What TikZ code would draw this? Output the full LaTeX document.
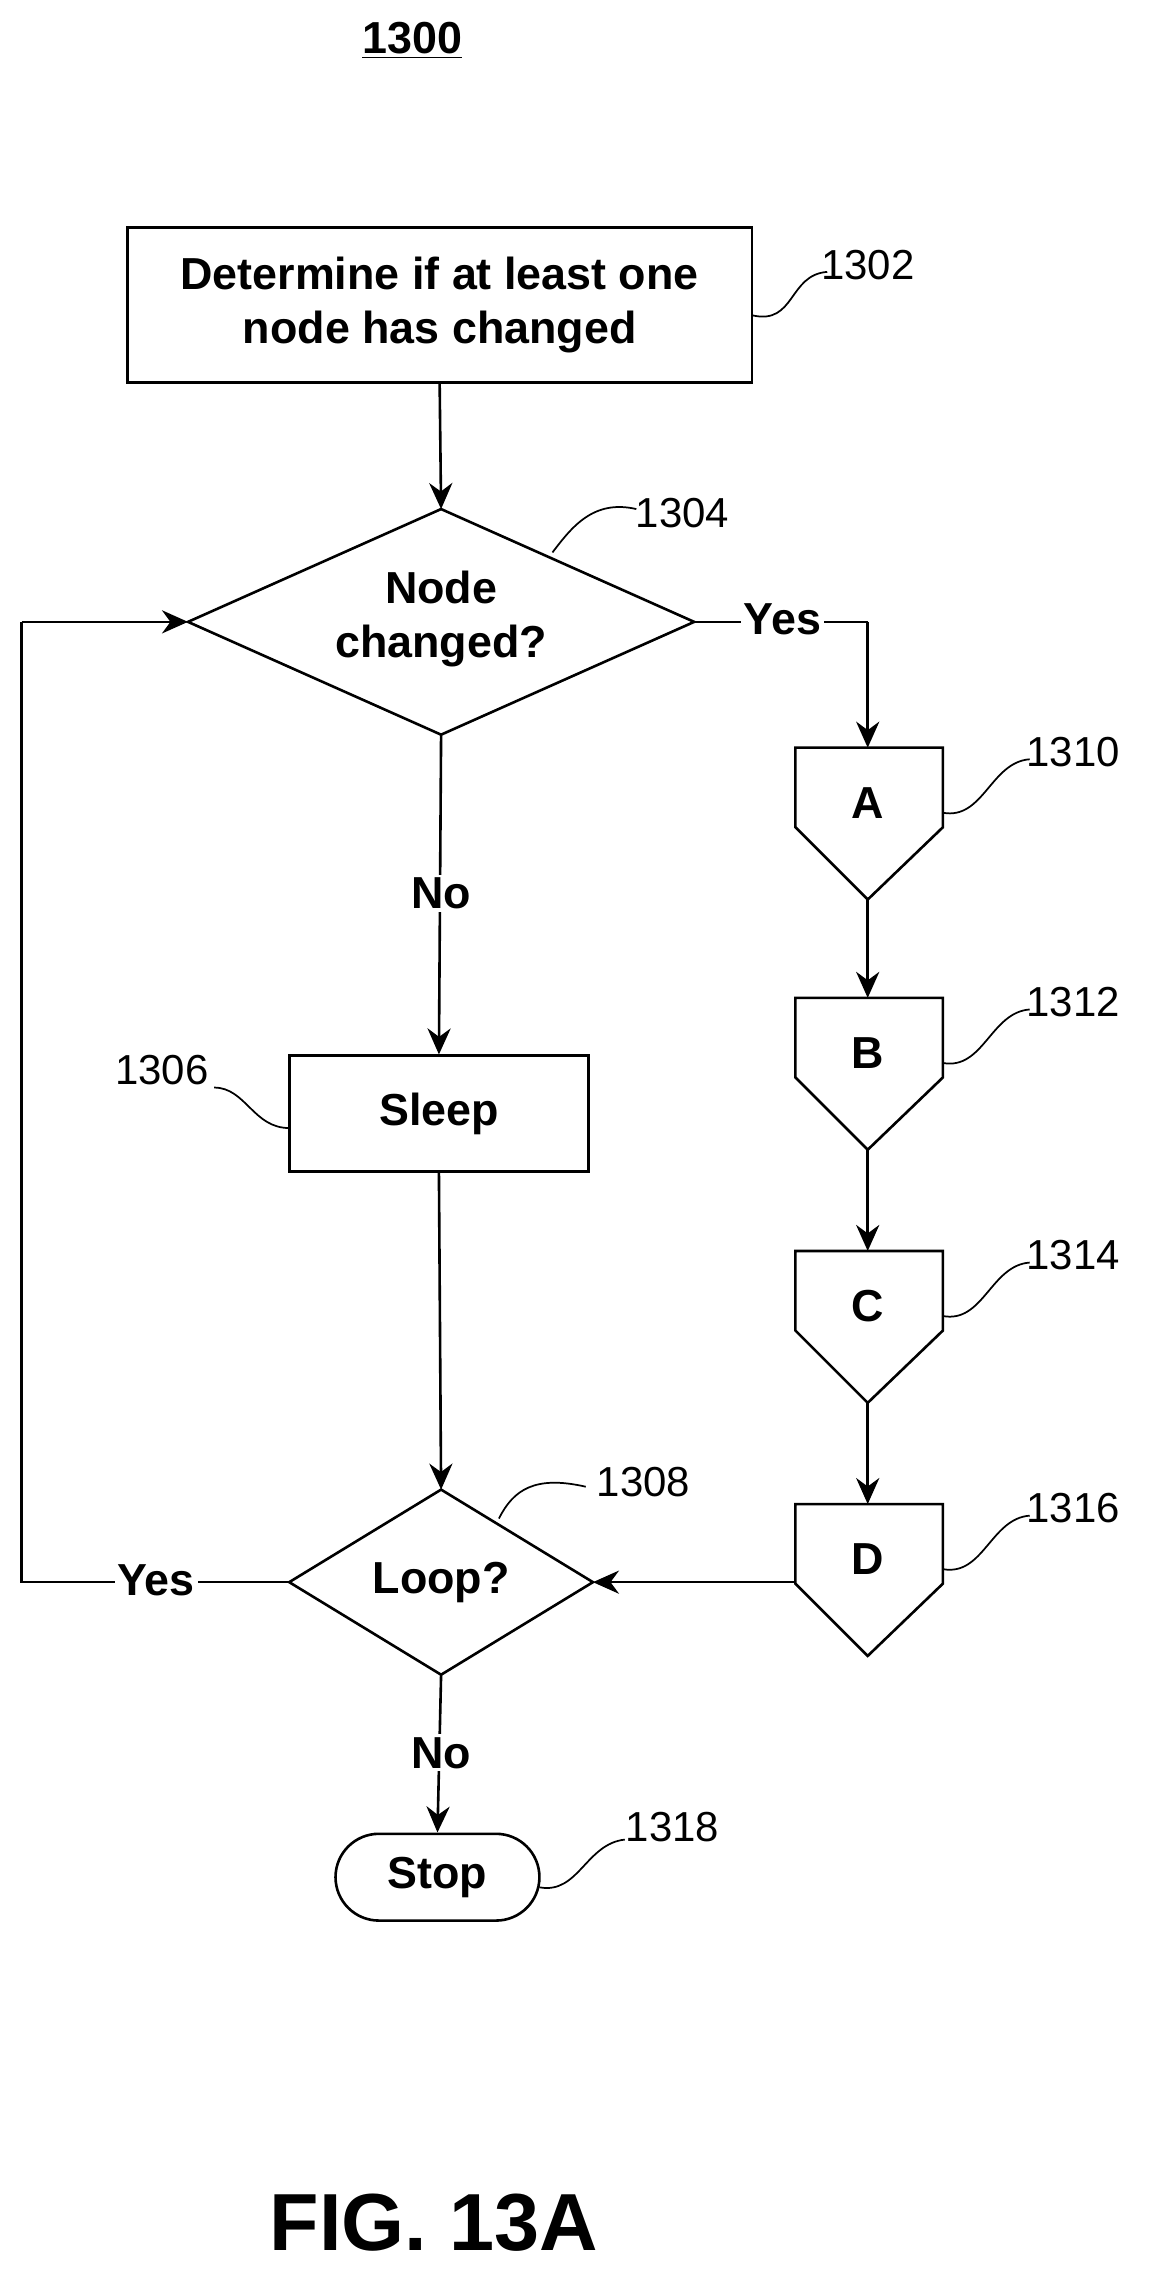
\documentclass[tikz,border=0pt]{standalone}
\usepackage{fontspec}
\setmainfont{Liberation Sans}
\usetikzlibrary{shapes.geometric,arrows.meta}
\begin{document}
\begin{tikzpicture}[x=0.5pt,y=-0.5pt,
  box/.style={draw,line width=0.9pt,font=\bfseries\fontsize{15.5}{18.5}\selectfont,align=center,inner sep=0pt},
  bt/.style={font=\bfseries\fontsize{15.5}{18.5}\selectfont,align=center,inner sep=0pt},
  lbl/.style={font=\fontsize{14.5}{17}\selectfont},
  txt/.style={font=\bfseries\fontsize{15.5}{18.5}\selectfont,fill=white,inner sep=1pt},
  arr/.style={line width=0.9pt,-{Stealth[length=9pt,width=8pt]}},
  ln/.style={line width=0.9pt},
  lead/.style={line width=0.6pt}]
\useasboundingbox (0,0) rectangle (800,1580);
\node[font=\bfseries\fontsize{15.5}{18.5}\selectfont] (title) at (285,28) {\underline{1300}};
% 1302
\node[box,minimum width=216pt,minimum height=53.5pt] (n1302) at (304,211) {Determine if at least one\\node has changed};
\node[lbl] (l1302) at (600,183) {1302};
\draw[lead] (520,218) .. controls (550,225) and (545,190) .. (572,188);
% 1304 diamond
\coordinate (d1n) at (305,352); \coordinate (d1e) at (480,430);
\coordinate (d1s) at (305,508); \coordinate (d1w) at (130,430);
\draw[ln] (d1n) -- (d1e) -- (d1s) -- (d1w) -- cycle;
\node[bt] (n1304) at (305,428) {Node\\changed?};
\node[lbl] (l1304) at (472,355) {1304};
\draw[lead] (382,382) .. controls (395,365) and (410,345) .. (440,352);
\draw[arr] (n1302.south) -- (d1n);
% pentagons
\foreach \n/\t/\y in {A/1310/517,B/1312/690,C/1314/865,D/1316/1040}{
  \draw[ln] (550,\y) -- (652,\y) -- (652,\y+55) -- (600,\y+105) -- (550,\y+55) -- cycle;
  \node[bt] (\n) at (600,\y+38) {\n};
  \coordinate (\n t) at (600,\y);
  \coordinate (\n b) at (600,\y+105);
  \node[lbl] (l\t) at (742,\y+3) {\t};
  \draw[lead] (652,\y+45) .. controls (680,\y+50) and (685,\y+10) .. (712,\y+8);
}
\draw[ln] (d1e) -- (600,430);
\draw[arr] (600,430) -- (At);
\node[txt] (yes1) at (541,428) {Yes};
\draw[arr] (Ab) -- (Bt);
\draw[arr] (Bb) -- (Ct);
\draw[arr] (Cb) -- (Dt);
% sleep
\node[box,minimum width=103.5pt,minimum height=40pt] (n1306) at (303.5,770) {Sleep};
\node[lbl] (l1306) at (112,740) {1306};
\draw[lead] (200,780) .. controls (175,780) and (170,752) .. (148,752);
\draw[arr] (d1s) -- (n1306.north);
\node[txt] (no1) at (305,618) {No};
% loop diamond
\coordinate (d2n) at (305,1030); \coordinate (d2e) at (410,1094);
\coordinate (d2s) at (305,1158); \coordinate (d2w) at (200,1094);
\draw[ln] (d2n) -- (d2e) -- (d2s) -- (d2w) -- cycle;
\node[bt] (n1308) at (305,1094) {Loop?};
\node[lbl] (l1308) at (445,1025) {1308};
\draw[lead] (345,1050) .. controls (355,1030) and (370,1020) .. (405,1028);
\draw[arr] (n1306.south) -- (d2n);
\draw[arr] (550,1094) -- (d2e);
\coordinate (c1) at (15,1094);
\coordinate (c2) at (15,430);
\draw[ln] (d2w) -- (c1) -- (c2);
\draw[arr] (c2) -- (d1w);
\node[txt] (yes2) at (108,1093) {Yes};
% stop
\node[box,rounded corners=15pt,minimum width=70.5pt,minimum height=30pt] (n1318) at (302.5,1298) {Stop};
\node[lbl] (l1318) at (465,1263) {1318};
\draw[lead] (373,1305) .. controls (400,1310) and (405,1275) .. (432,1272);
\draw[arr] (d2s) -- (n1318.north);
\node[txt] (no2) at (305,1212) {No};
\node[font=\bfseries\fontsize{28}{32}\selectfont] (fig) at (300,1537) {FIG. 13A};
\end{tikzpicture}
\end{document}
